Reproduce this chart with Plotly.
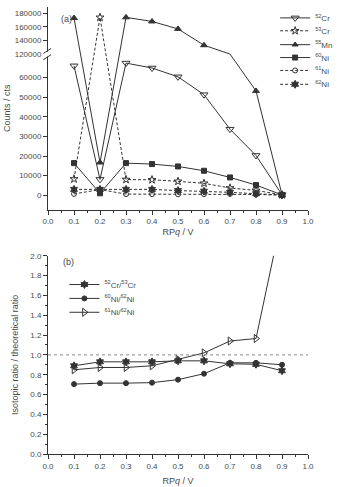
import plotly.graph_objects as go

# ---------------- data ----------------
rpq = [0.1, 0.2, 0.3, 0.4, 0.5, 0.6, 0.7, 0.8, 0.9]

cr52 = [66000, 8100, 67400, 64900, 60400, 51300, 33700, 20300, 300]
cr53 = [8300, 174000, 8000, 7900, 7100, 6100, 3700, 2500, 200]
mn55 = [173000, 16700, 174000, 168000, 157000, 133000, 100000, 53200, 300]
ni60 = [16400, 1000, 16400, 15900, 14700, 12500, 9100, 5200, 200]
ni61 = [700, 2900, 600, 600, 500, 600, 700, 400, 100]
ni62 = [3000, 3000, 3000, 3000, 2400, 2100, 1500, 800, 100]

ratio_cr = [0.89, 0.93, 0.93, 0.93, 0.94, 0.94, 0.91, 0.905, 0.84]
ratio_ni60 = [0.705, 0.715, 0.715, 0.72, 0.75, 0.81, 0.92, 0.92, 0.90]
ratio_ni61 = [0.85, 0.873, 0.873, 0.89, 0.955, 1.02, 1.14, 1.165, 2.40]

ytick_a = [0, 10000, 20000, 30000, 40000, 50000, 60000, 120000, 140000, 160000, 180000]

# ---------------- broken axis mapping (panel a) ----------------
BREAK_LOW = 72000      # top of lower segment
BREAK_HIGH = 120000    # bottom of upper segment
UPPER_SCALE = 0.3465   # compression of the upper segment


def brk(v):
    if v <= BREAK_LOW:
        return v
    if v < BREAK_HIGH:
        return BREAK_LOW
    return BREAK_LOW + (v - BREAK_HIGH) * UPPER_SCALE


def in_gap(v):
    return BREAK_LOW < v < BREAK_HIGH


LINE = "#333333"
TXT = "#4a4a4a"
FONT = "Liberation Sans, Arial, sans-serif"
DASH = "3px,2px"

fig = go.Figure()

series_a = [
    ("<sup>52</sup>Cr", cr52, "triangle-down-open", "solid", 7),
    ("<sup>53</sup>Cr", cr53, "star-open", "dash", 6),
    ("<sup>55</sup>Mn", mn55, "triangle-up", "solid", 6),
    ("<sup>60</sup>Ni", ni60, "square", "solid", 5),
    ("<sup>61</sup>Ni", ni61, "circle-open", "dash", 5),
    ("<sup>62</sup>Ni", ni62, "hexagram", "dash", 6),
]

for i, (name, vals, sym, dash, size) in enumerate(series_a):
    msize = [0 if in_gap(v) else size for v in vals] if any(in_gap(v) for v in vals) else size
    fig.add_trace(go.Scatter(
        x=rpq, y=[brk(v) for v in vals], name=name, mode="lines+markers",
        xaxis="x", yaxis="y",
        line=dict(color=LINE, width=1, dash=DASH if dash == "dash" else "solid"),
        marker=dict(symbol=sym, size=msize, color=LINE, opacity=1,
                    line=dict(color=LINE, width=1)),
        legend="legend" if i == 0 else f"legend{i+1}",
    ))

series_b = [
    ("<sup>52</sup>Cr/<sup>53</sup>Cr", ratio_cr, "hexagram", 6),
    ("<sup>60</sup>Ni/<sup>62</sup>Ni", ratio_ni60, "circle", 5),
    ("<sup>61</sup>Ni/<sup>62</sup>Ni", ratio_ni61, "triangle-right-open", 7),
]
for j, (name, vals, sym, size) in enumerate(series_b):
    fig.add_trace(go.Scatter(
        x=rpq, y=vals, name=name, mode="lines+markers",
        xaxis="x2", yaxis="y2",
        line=dict(color=LINE, width=1),
        marker=dict(symbol=sym, size=size, color=LINE, line=dict(color=LINE, width=1)),
        legend=f"legend{7+j}",
    ))

# ---------------- layout ----------------
L, R, T, B = 48, 22, 3, 33
W, H = 339, 487
PW = W - L - R
PH = H - T - B


def py(Y):
    return (H - B - Y) / PH


def px(X):
    return (X - L) / PW


axis_common = dict(
    showline=True, linecolor=LINE, linewidth=1, ticks="outside", ticklen=4,
    tickcolor=LINE, tickwidth=1, showgrid=False, zeroline=False,
    tickfont=dict(size=8, color=TXT, family=FONT),
)

dom_a = [py(207.5), 1.0]
dom_b = [0.0, py(254)]

layout = dict(
    width=W, height=H, margin=dict(l=L, r=R, t=T, b=B),
    paper_bgcolor="white", plot_bgcolor="white",
    font=dict(family=FONT, color=TXT, size=8),
    xaxis=dict(axis_common, domain=[0, 1], range=[0, 1.0], dtick=0.1, tickformat=".1f",
               anchor="y", minor=dict(dtick=0.05, ticks="outside", ticklen=2, tickcolor=LINE),
               title=dict(text="RP<i>q</i> / V", font=dict(size=9, color=TXT), standoff=3)),
    yaxis=dict(axis_common, domain=dom_a, range=[-7350, 96000], anchor="x",
               tickvals=[brk(v) for v in ytick_a], ticktext=[str(v) for v in ytick_a],
               title=dict(text="Counts / cts", font=dict(size=9, color=TXT), standoff=2)),
    xaxis2=dict(axis_common, domain=[0, 1], range=[0, 1.0], dtick=0.1, tickformat=".1f",
                anchor="y2", minor=dict(dtick=0.05, ticks="outside", ticklen=2, tickcolor=LINE),
                title=dict(text="RP<i>q</i> / V", font=dict(size=9, color=TXT), standoff=8)),
    yaxis2=dict(axis_common, domain=dom_b, range=[0, 2.0], dtick=0.2, tickformat=".1f",
                anchor="x2", minor=dict(dtick=0.1, ticks="outside", ticklen=2, tickcolor=LINE),
                title=dict(text="Isotopic ratio / theoretical ratio",
                           font=dict(size=9, color=TXT), standoff=10)),
    showlegend=True,
)

leg_base = dict(xanchor="left", yanchor="middle",
                bgcolor="rgba(0,0,0,0)", borderwidth=0,
                font=dict(size=8, color=TXT, family=FONT))

# panel (a) legend runs off the right edge like the original
leg_a_y = [14, 27, 41, 54, 67, 81]
for i, Y in enumerate(leg_a_y):
    key = "legend" if i == 0 else f"legend{i+1}"
    layout[key] = dict(leg_base, x=px(283), y=py(Y), orientation="h",
                       entrywidth=16, entrywidthmode="pixels")
leg_b_y = [283, 297, 311]
for j, Y in enumerate(leg_b_y):
    layout[f"legend{7+j}"] = dict(leg_base, x=px(65), y=py(Y))

fig.update_layout(**layout)

# panel labels
fig.add_annotation(text="(a)", xref="paper", yref="paper", x=px(59), y=py(8),
                   showarrow=False, font=dict(size=9, color=TXT))
fig.add_annotation(text="(b)", xref="paper", yref="paper", x=px(61), y=py(260),
                   showarrow=False, font=dict(size=9, color=TXT))

# reference line at ratio 1
fig.add_shape(type="line", xref="x2", yref="y2", x0=0, x1=1.0, y0=1.0, y1=1.0,
              line=dict(color="#888888", width=1, dash="3px,3px"))

# axis break marks
fig.add_shape(type="rect", xref="paper", yref="y", x0=-0.02, x1=0.012,
              y0=BREAK_LOW - 1200, y1=BREAK_LOW + 1200,
              fillcolor="white", line=dict(width=0), layer="above")
for off in (-1600, 1600):
    fig.add_shape(type="line", xref="paper", yref="y", x0=-0.018, x1=0.012,
                  y0=BREAK_LOW + off - 1300, y1=BREAK_LOW + off + 1300,
                  line=dict(color=LINE, width=1), layer="above")

fig.write_html("out.html")
